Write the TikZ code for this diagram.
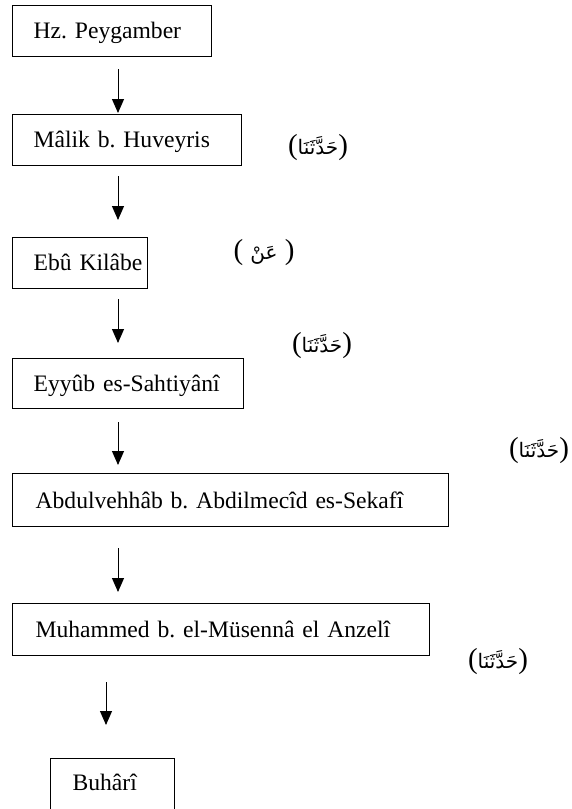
\documentclass[tikz,border=0pt]{standalone}
\usepackage{fontspec}
\setmainfont{Liberation Serif}
\newfontfamily\arabicfont[Script=Arabic]{DejaVu Sans}
\TeXXeTstate=1
\frenchspacing
\usetikzlibrary{arrows.meta}
\newcommand{\ar}[1]{{\arabicfont\fontsize{20}{24}\selectfont\beginR #1\endR}}
\begin{document}
\begin{tikzpicture}[x=1pt,y=-1pt,
  box/.style={draw, line width=1.3pt, rectangle, anchor=north west, inner ysep=0pt,
    align=left, font=\fontsize{23.6}{28}\selectfont\frenchspacing},
  arr/.style={line width=1pt, -{Triangle[width=12pt,length=14pt]}},
  lbl/.style={inner sep=0pt, font=\fontsize{29}{34}\selectfont}]
\useasboundingbox (0,0) rectangle (572,809);
\clip (0,0) rectangle (572,809);
\node[box, inner xsep=21pt, text width=157pt, text height=33pt, text depth=18pt] (b1) at (12,5) {\mbox{Hz. Peygamber}};
\node[box, inner xsep=21pt, text width=187pt, text height=33pt, text depth=18pt] (b2) at (12,114) {\mbox{Mâlik b. Huveyris}};
\node[box, inner xsep=21pt, text width=93pt, text height=33pt, text depth=18pt] (b3) at (12,237) {\mbox{Ebû Kilâbe}};
\node[box, inner xsep=21pt, text width=189pt, text height=33pt, text depth=17pt] (b4) at (12,358) {\mbox{Eyyûb es-Sahtiyânî}};
\node[box, inner xsep=23pt, text width=390pt, text height=35pt, text depth=18pt] (b5) at (12,473) {\mbox{Abdulvehhâb b. Abdilmecîd es-Sekafî}};
\node[box, inner xsep=23pt, text width=371pt, text height=34pt, text depth=18pt] (b6) at (12,603) {\mbox{Muhammed b. el-Müsennâ el Anzelî}};
\node[box, inner xsep=22pt, text width=80pt, text height=32pt, text depth=30pt] (b7) at (50,758) {\mbox{Buhârî}};

\draw[arr, shorten <=12pt, shorten >=1pt] ([xshift=106pt]b1.south west) -- ([xshift=106pt]b2.north west);
\draw[arr, shorten <=10pt, shorten >=17pt] ([xshift=106pt]b2.south west) -- ([xshift=106pt]b3.north west);
\draw[arr, shorten <=10pt, shorten >=15pt] ([xshift=106pt]b3.south west) -- ([xshift=106pt]b4.north west);
\draw[arr, shorten <=13pt, shorten >=8pt] ([xshift=106pt]b4.south west) -- ([xshift=106pt]b5.north west);
\draw[arr, shorten <=21pt, shorten >=11pt] ([xshift=106pt]b5.south west) -- ([xshift=106pt]b6.north west);
\draw[arr, shorten <=26pt, shorten >=33pt] ([xshift=94pt]b6.south west) -- ([xshift=56pt]b7.north west);

\node[lbl] (l1) at (318,148) {(\ar{حَدَّثَنَا})};
\node[lbl] (l2) at (264,253) {( \ar{عَنْ} )};
\node[lbl] (l3) at (322,346) {(\ar{حَدَّثَنَا})};
\node[lbl] (l4) at (539,451) {(\ar{حَدَّثَنَا})};
\node[lbl] (l5) at (498,662) {(\ar{حَدَّثَنَا})};
\end{tikzpicture}
\end{document}
